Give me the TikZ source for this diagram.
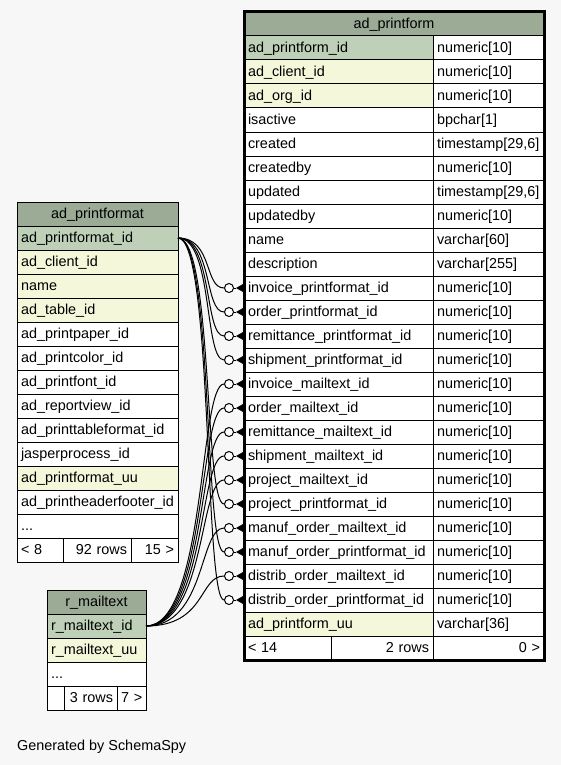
\documentclass[tikz,border=0pt]{standalone}
\usepackage{fontspec}
\setmainfont{Liberation Sans}
\definecolor{bgcol}{HTML}{F7F7F7}
\definecolor{headcol}{HTML}{9BAB96}
\definecolor{pkcol}{HTML}{BED1B8}
\definecolor{fkcol}{HTML}{F4F7DA}
\newcommand{\moredots}{...}
\tikzset{
  cell/.style={draw=black, line width=1pt, anchor=north west, minimum height=24pt,
    inner xsep=4pt, inner ysep=0pt, outer sep=0pt, text height=11pt, text depth=2pt,
    align=left, font=\fontsize{14.4}{17}\selectfont},
  headcell/.style={cell, fill=headcol, align=center},
  odot/.style={circle, draw, line width=1pt, fill=white, minimum size=9pt, inner sep=0pt},
  link/.style={line width=1pt},
}

\begin{document}
\begin{tikzpicture}[x=1pt,y=-1pt]
  \fill[bgcol] (0,0) rectangle (561,765);
  % Table ad_printformat
  \begin{scope}
    \node[headcell, text width=153pt] (fmt-head) at (17,202) {ad\_printformat};
    \foreach \i/\name/\col in {1/ad\_printformat\_id/pkcol, 2/ad\_client\_id/fkcol,
        3/name/fkcol, 4/ad\_table\_id/fkcol, 5/ad\_printpaper\_id/white,
        6/ad\_printcolor\_id/white, 7/ad\_printfont\_id/white, 8/ad\_reportview\_id/white,
        9/ad\_printtableformat\_id/white, 10/jasperprocess\_id/white,
        11/ad\_printformat\_uu/fkcol, 12/ad\_printheaderfooter\_id/white, 13/\moredots/white}
      \node[cell, text width=153pt, fill=\col] (fmt-\i) at (17,{202+24*\i}) {\name};
    \node[cell, text width=38pt, fill=white] (fmt-f1) at (17,538) {<~8};
    \node[cell, text width=60pt, fill=white, align=right] (fmt-f2) at (63,538) {92~rows};
    \node[cell, text width=39pt, fill=white, align=right] (fmt-f3) at (131,538) {15~>};
  \end{scope}
  % Table r_mailtext
  \begin{scope}
    \node[headcell, text width=91pt] (mail-head) at (47,590) {r\_mailtext};
    \foreach \i/\name/\col in {1/r\_mailtext\_id/pkcol, 2/r\_mailtext\_uu/fkcol, 3/\moredots/white}
      \node[cell, text width=91pt, fill=\col] (mail-\i) at (47,{590+24*\i}) {\name};
    \node[cell, text width=9pt, fill=white] (mail-f1) at (47,686) {};
    \node[cell, text width=45pt, fill=white, align=right] (mail-f2) at (64,686) {3~rows};
    \node[cell, text width=21pt, fill=white, align=right] (mail-f3) at (117,686) {7~>};
  \end{scope}
  % Table ad_printform
  \begin{scope}
    \node[headcell, text width=292pt] (form-head) at (244,12) {ad\_printform};
    \foreach \i/\name/\type/\col in {1/ad\_printform\_id/numeric[10]/pkcol,
        2/ad\_client\_id/numeric[10]/fkcol, 3/ad\_org\_id/numeric[10]/fkcol,
        4/isactive/bpchar[1]/white, 5/created/{timestamp[29,6]}/white,
        6/createdby/numeric[10]/white, 7/updated/{timestamp[29,6]}/white,
        8/updatedby/numeric[10]/white, 9/name/varchar[60]/white,
        10/description/varchar[255]/white, 11/invoice\_printformat\_id/numeric[10]/white,
        12/order\_printformat\_id/numeric[10]/white,
        13/remittance\_printformat\_id/numeric[10]/white,
        14/shipment\_printformat\_id/numeric[10]/white,
        15/invoice\_mailtext\_id/numeric[10]/white, 16/order\_mailtext\_id/numeric[10]/white,
        17/remittance\_mailtext\_id/numeric[10]/white,
        18/shipment\_mailtext\_id/numeric[10]/white,
        19/project\_mailtext\_id/numeric[10]/white,
        20/project\_printformat\_id/numeric[10]/white,
        21/manuf\_order\_mailtext\_id/numeric[10]/white,
        22/manuf\_order\_printformat\_id/numeric[10]/white,
        23/distrib\_order\_mailtext\_id/numeric[10]/white,
        24/distrib\_order\_printformat\_id/numeric[10]/white,
        25/ad\_printform\_uu/varchar[36]/fkcol} {
      \node[cell, text width=181pt, fill=\col] (form-\i) at (244,{12+24*\i}) {\name};
      \node[cell, text width=103pt, fill=white] (type-\i) at (433,{12+24*\i}) {\type};
    }
    \node[cell, text width=79pt, fill=white] (form-f1) at (244,636) {<~14};
    \node[cell, text width=94pt, fill=white, align=right] (form-f2) at (331,636) {2~rows};
    \node[cell, text width=103pt, fill=white, align=right] (form-f3) at (433,636) {0~>};
    \draw[line width=3pt] (form-head.north west) rectangle (form-f3.south east);
  \end{scope}
  % crow's feet with circles at the referencing columns
  \foreach \r in {11,...,24} {
    \node[odot] (dot-\r) at ([xshift=-15pt]form-\r.west) {};
    \fill ([xshift=-8pt]form-\r.west) -- ([yshift=4.5pt]form-\r.west)
      -- ([yshift=-4.5pt]form-\r.west) -- cycle;
    \draw[link] (dot-\r) -- ([xshift=-8pt]form-\r.west);
  }
  \foreach \r in {11,12,13,14,20,22,24}
    \draw[link] (fmt-1.east) .. controls +(35,0) and +(-20,0) .. (dot-\r.west);
  \foreach \r in {15,...,19,21,23}
    \draw[link] (mail-1.east) .. controls +(60,0) and +(-25,0) .. (dot-\r.west);
  \node[anchor=base west, font=\fontsize{14.4}{17}\selectfont, inner sep=0pt] (credit)
    at (17,750) {Generated by SchemaSpy};
\end{tikzpicture}
\end{document}
